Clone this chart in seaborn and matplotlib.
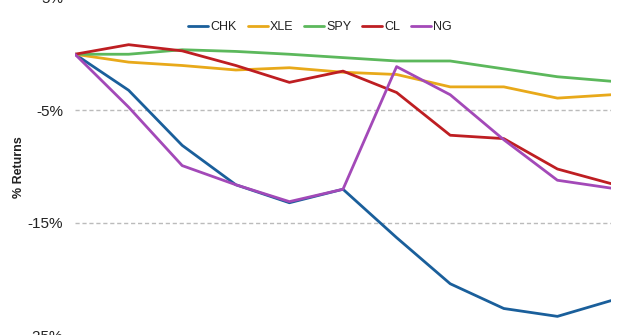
import matplotlib
matplotlib.use("Agg")
import matplotlib.pyplot as plt
import seaborn as sns
import pandas as pd
from matplotlib.ticker import FuncFormatter

periods = list(range(11))
chk = [0, -3.2, -8.1, -11.6, -13.2, -12.0, -16.3, -20.4, -22.6, -23.3, -21.9]
xle = [0, -0.7, -1.0, -1.4, -1.2, -1.6, -1.8, -2.9, -2.9, -3.9, -3.6]
spy = [0, 0.0, 0.4, 0.25, 0.0, -0.3, -0.6, -0.6, -1.3, -2.0, -2.4]
cl = [0, 0.85, 0.3, -1.0, -2.5, -1.5, -3.4, -7.2, -7.5, -10.2, -11.5]
ng = [0, -4.7, -9.9, -11.6, -13.1, -12.0, -1.1, -3.6, -7.6, -11.2, -11.9]
series = ["CHK", "XLE", "SPY", "CL", "NG"]
values = [chk, xle, spy, cl, ng]
colors = ["#1A5F9B", "#E8A91A", "#5CB85C", "#BE1E22", "#A349B8"]
yticks = [5, -5, -15, -25]

rows = []
for name, vals in zip(series, values):
    for p, v in zip(periods, vals):
        rows.append({"period": p, "ret": v, "series": name})
df = pd.DataFrame(rows)

sns.set_theme(style="white")
plt.rcParams["font.family"] = ["Liberation Sans", "DejaVu Sans"]

fig = plt.figure(figsize=(6.4, 3.35), dpi=100)
ax = fig.add_axes([75 / 640, -0.0015, 536 / 640, 1.0075])

sns.lineplot(data=df, x="period", y="ret", hue="series", hue_order=series,
             palette=colors, linewidth=2, ax=ax, legend=True)

ax.set_xlim(0, 10)
ax.set_ylim(-25, 5)
ax.set_yticks(yticks)
ax.yaxis.set_major_formatter(FuncFormatter(lambda v, _: f"{int(v)}%"))
ax.set_xticks([])
ax.set_xlabel("")
ax.set_ylabel("")
ax.tick_params(axis="y", length=0, pad=8.5, labelsize=11, labelcolor="#222222")
for y in yticks:
    ax.axhline(y, color="#BBBBBB", linestyle=(0, (3, 2)), linewidth=1, zorder=0)
for s in ax.spines.values():
    s.set_visible(False)

fig.text(18.5 / 640, 1 - 167 / 335, "% Returns", rotation=90, ha="center",
         va="center", fontsize=9, fontweight="bold", color="#222222")

handles, labels = ax.get_legend_handles_labels()
ax.get_legend().remove()
fig.legend(handles, labels, loc="center", bbox_to_anchor=(0.5, 1 - 27 / 335),
           ncol=5, frameon=False, fontsize=9, handlelength=1.6,
           handletextpad=0.15, columnspacing=0.9, labelcolor="#222222")

fig.savefig("out.png", dpi=100)
